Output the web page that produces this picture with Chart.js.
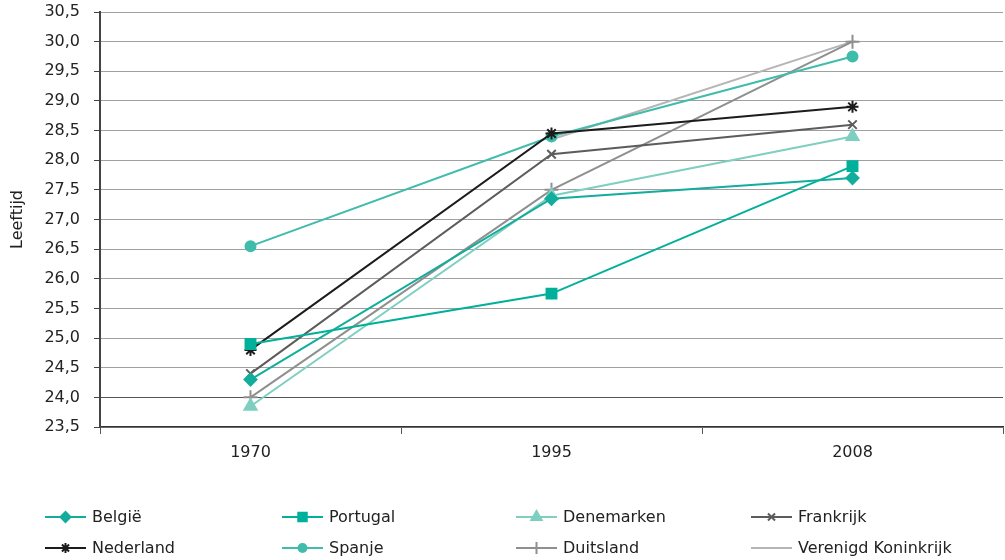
<!DOCTYPE html>
<html>
<head>
<meta charset="utf-8">
<script src="https://cdn.jsdelivr.net/npm/chart.js@4"></script>
<style>
  html, body { margin: 0; padding: 0; background: #fff; }
  #wrap { width: 1005px; height: 560px; }
</style>
</head>
<body>
<div id="wrap"><canvas id="chart" width="1005" height="560"></canvas></div>
<script>
// jaren op de x-as
const years = ['1970', '1995', '2008'];

// leeftijd per land
const belgie = [24.3, 27.35, 27.7];
const portugal = [24.9, 25.75, 27.9];
const denemarken = [23.85, 27.4, 28.4];
const frankrijk = [24.4, 28.1, 28.6];
const nederland = [24.8, 28.45, 28.9];
const spanje = [26.55, 28.4, 29.75];
const duitsland = [24.0, 27.5, 30.0];
const verenigdKoninkrijk = [null, 28.35, 30.0];

const yMin = 23.5;
const yMax = 30.5;
const yStep = 0.5;

const FONT = '"DejaVu Sans", "Liberation Sans", Arial, sans-serif';
const TEXT = '#222222';

const series = [
    { label: 'België', data: belgie, color: '#12ad9c', style: 'rectRot', r: 6 },
    { label: 'Portugal', data: portugal, color: '#00b09a', style: 'rect', r: 7 },
    { label: 'Denemarken', data: denemarken, color: '#7fcfc0', style: 'triangle', r: 7 },
    { label: 'Frankrijk', data: frankrijk, color: '#5c5c5c', style: 'crossRot', r: 6 },
    { label: 'Nederland', data: nederland, color: '#1c1c1c', style: 'star', r: 6 },
    { label: 'Spanje', data: spanje, color: '#40bcab', style: 'circle', r: 5 },
    { label: 'Duitsland', data: duitsland, color: '#8f8f8f', style: 'cross', r: 7 },
    { label: 'Verenigd Koninkrijk', data: verenigdKoninkrijk, color: '#b5b5b5', style: 'line', r: 4 },
];

// legenda in vaste kolommen onder de grafiek
const legendPlugin = {
    id: 'columnLegend',
    afterDraw(chart) {
        const ctx = chart.ctx;
        const colX = [45, 282, 516, 751];
        const rowY = [517, 548];
        ctx.save();
        series.forEach((s, i) => {
            const x = colX[i % 4];
            const y = rowY[Math.floor(i / 4)];
            ctx.strokeStyle = s.color;
            ctx.fillStyle = s.color;
            ctx.lineWidth = 2;
            ctx.beginPath();
            ctx.moveTo(x, y);
            ctx.lineTo(x + 41, y);
            ctx.stroke();
            Chart.helpers.drawPoint(ctx, {
                pointStyle: s.style,
                radius: s.style === 'rect' ? 6 : (s.style === 'line' ? 3 : s.r - 1),
                rotation: 0,
                borderWidth: 2
            }, x + 20.5, y);
            ctx.fillStyle = TEXT;
            ctx.font = '16px ' + FONT;
            ctx.textBaseline = 'middle';
            ctx.textAlign = 'left';
            ctx.fillText(s.label, x + 47, y + 1);
        });
        ctx.restore();
    }
};

const ctx = document.getElementById('chart').getContext('2d');

new Chart(ctx, {
    type: 'line',
    data: {
        labels: years,
        datasets: series.map(s => ({
            label: s.label,
            data: s.data,
            borderColor: s.color,
            backgroundColor: s.color,
            borderWidth: 2,
            tension: 0,
            pointStyle: s.style,
            pointRadius: s.r,
            pointHoverRadius: s.r,
            pointBorderWidth: 2,
            pointBackgroundColor: s.color,
            pointBorderColor: s.color,
            spanGaps: false,
        })),
    },
    options: {
        responsive: false,
        animation: false,
        events: [],
        layout: {
            autoPadding: false,
            padding: { top: 12, right: 2, bottom: 0, left: 0 },
        },
        plugins: {
            legend: { display: false },
            tooltip: { enabled: false },
        },
        scales: {
            x: {
                offset: true,
                afterFit: (scale) => {
                    scale.height = 133;
                    scale.paddingLeft = 0;
                    scale.paddingRight = 0;
                },
                grid: {
                    offset: true,
                    drawOnChartArea: false,
                    drawTicks: true,
                    tickLength: 7,
                    color: '#555555',
                    lineWidth: 1,
                },
                border: { display: true, color: '#333333', width: 1.5 },
                ticks: {
                    color: TEXT,
                    font: { family: FONT, size: 16 },
                    padding: 9,
                    maxRotation: 0,
                },
            },
            y: {
                min: yMin,
                max: yMax,
                afterFit: (scale) => {
                    scale.width = 100;
                    scale.paddingTop = 0;
                    scale.paddingBottom = 0;
                },
                ticks: {
                    stepSize: yStep,
                    color: TEXT,
                    font: { family: FONT, size: 16 },
                    padding: 14,
                    callback: (v) => v.toFixed(1).replace('.', ','),
                },
                grid: {
                    color: (c) => (c.tick && c.tick.value === 24) ? '#555555' : '#a0a0a0',
                    lineWidth: 1,
                    tickLength: 6,
                    tickColor: '#444444',
                },
                border: { display: true, color: '#444444', width: 2 },
                title: {
                    display: true,
                    text: 'Leeftijd',
                    color: TEXT,
                    font: { family: FONT, size: 16 },
                    padding: { top: 8, bottom: 0 },
                },
            },
        },
    },
    plugins: [legendPlugin],
});
</script>
</body>
</html>
